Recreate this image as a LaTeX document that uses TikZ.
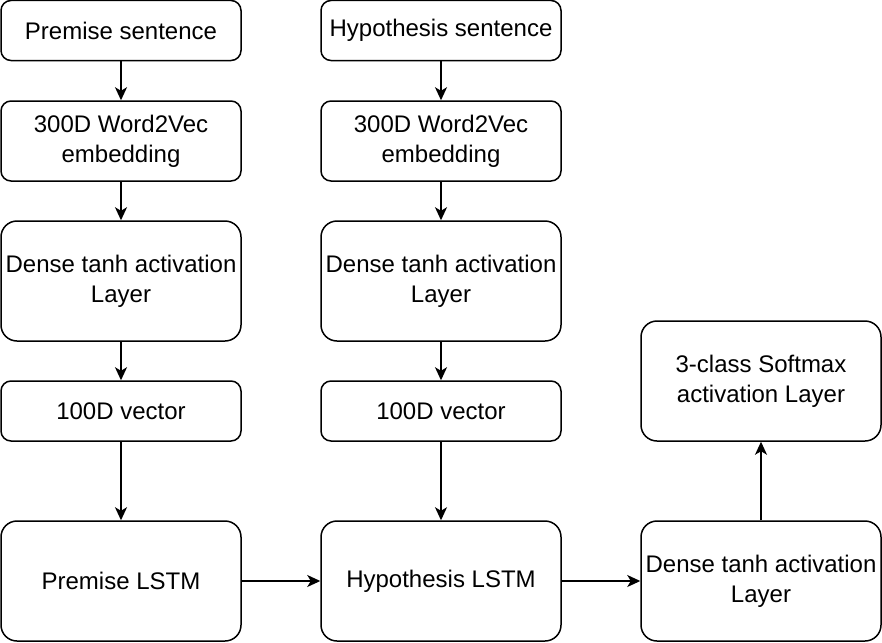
\documentclass[tikz,border=0pt]{standalone}
\usepackage{fontspec}
\setmainfont{Liberation Sans}
\usepackage{tikz}
\usetikzlibrary{arrows.meta}

\begin{document}
\begin{tikzpicture}[x=1pt,y=-1pt,>={Stealth[length=13pt,width=12pt,inset=3.5pt]},
    line width=1.5pt,
    font=\fontsize{24}{30}\selectfont,
    box/.style={draw,rounded corners=10pt,minimum width=240pt,align=center,inner sep=0pt},
    shortbox/.style={box,minimum height=60pt},
    midbox/.style={box,minimum height=80pt},
    tallbox/.style={box,rounded corners=16pt,minimum height=120pt}]
    \useasboundingbox (0,0) rectangle (882,642);
    % premise branch
    \node[shortbox] (psent) at (121,30.5) {Premise sentence};
    \node[midbox] (pemb) at (121,141) {300D Word2Vec\\embedding};
    \node[tallbox] (pdense) at (121,281) {Dense tanh activation\\Layer};
    \node[shortbox] (pvec) at (121,411) {100D vector};
    \node[tallbox] (plstm) at (121,581) {Premise LSTM};
    % hypothesis branch
    \node[shortbox] (hsent) at (441,30.5) {Hypothesis sentence};
    \node[midbox] (hemb) at (441,141) {300D Word2Vec\\embedding};
    \node[tallbox] (hdense) at (441,281) {Dense tanh activation\\Layer};
    \node[shortbox] (hvec) at (441,411) {100D vector};
    \node[tallbox] (hlstm) at (441,581) {Hypothesis LSTM};
    % output
    \node[tallbox] (odense) at (761,581) {Dense tanh activation\\Layer};
    \node[tallbox] (soft) at (761,381) {3-class Softmax\\activation Layer};
    \draw[->] (psent)--(pemb);
    \draw[->] (pemb)--(pdense);
    \draw[->] (pdense)--(pvec);
    \draw[->] (pvec)--(plstm);
    \draw[->] (hsent)--(hemb);
    \draw[->] (hemb)--(hdense);
    \draw[->] (hdense)--(hvec);
    \draw[->] (hvec)--(hlstm);
    \draw[->] (plstm)--(hlstm);
    \draw[->] (hlstm)--(odense);
    \draw[->] (odense)--(soft);
  \end{tikzpicture}
\end{document}
